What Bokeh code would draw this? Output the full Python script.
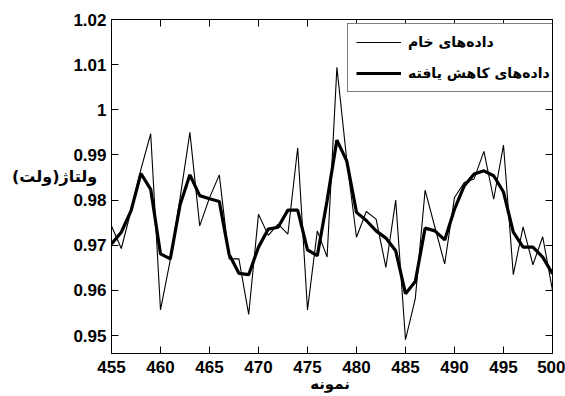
from bokeh.plotting import figure
from bokeh.models import (Range1d, FixedTicker, LinearAxis, Legend, LegendItem,
                          Label)
from bokeh.embed import file_html
from bokeh.resources import INLINE

# Sample index along the x axis
samples = list(range(455, 501))

# Raw voltage readings (V)
raw_values = [
    0.9743, 0.9693, 0.9777, 0.9868, 0.9947, 0.9557, 0.9668, 0.9805, 0.9950, 0.9743,
    0.9805, 0.9856, 0.9670, 0.9670, 0.9547, 0.9769, 0.9722, 0.9747, 0.9725, 0.9916,
    0.9557, 0.9732, 0.9674, 1.0094, 0.9890, 0.9718, 0.9775, 0.9758, 0.9651, 0.9800,
    0.9491, 0.9582, 0.9822, 0.9740, 0.9659, 0.9806, 0.9839, 0.9847, 0.9908, 0.9802,
    0.9922, 0.9635, 0.9741, 0.9657, 0.9719, 0.9600,
]

# Noise-reduced voltage (V)
reduced_values = [
    0.9703, 0.9729, 0.9777, 0.9859, 0.9824, 0.9681, 0.9670, 0.9790, 0.9856, 0.9810,
    0.9803, 0.9797, 0.9680, 0.9638, 0.9635, 0.9696, 0.9736, 0.9740, 0.9778, 0.9778,
    0.9690, 0.9677, 0.9799, 0.9933, 0.9887, 0.9773, 0.9755, 0.9732, 0.9716, 0.9688,
    0.9593, 0.9620, 0.9738, 0.9732, 0.9712, 0.9780, 0.9832, 0.9858, 0.9865, 0.9854,
    0.9818, 0.9729, 0.9696, 0.9696, 0.9674, 0.9637,
]

x_ticks = [455, 460, 465, 470, 475, 480, 485, 490, 495, 500]
y_ticks = [0.95, 0.96, 0.97, 0.98, 0.99, 1.00, 1.01, 1.02]
y_tick_labels = ["0.95", "0.96", "0.97", "0.98", "0.99", "1", "1.01", "1.02"]

series_names = ["داده‌های خام", "داده‌های کاهش یافته"]
x_title = "نمونه"
y_title = "ولتاژ(ولت)"

NUM_FONT = "'Liberation Sans', Arial, sans-serif"
FA_FONT = "'DejaVu Sans', sans-serif"

p = figure(width=565, height=396, output_backend="svg", toolbar_location=None,
           x_range=Range1d(455, 500), y_range=Range1d(0.94605, 1.02),
           min_border_left=111, min_border_right=13, min_border_top=18,
           min_border_bottom=43)
p.grid.visible = False
p.outline_line_color = "black"
p.outline_line_width = 1
p.background_fill_color = "white"
p.border_fill_color = "white"

raw_r = p.line(samples, raw_values, line_color="black", line_width=1.1)
red_r = p.line(samples, reduced_values, line_color="black", line_width=3.2)


def style_axis(ax, ticks, show_labels):
    ax.ticker = FixedTicker(ticks=ticks)
    ax.minor_tick_line_color = None
    ax.major_tick_in = 7
    ax.major_tick_out = 0
    ax.major_tick_line_color = "black"
    ax.axis_line_color = "black"
    if show_labels:
        ax.major_label_text_font = NUM_FONT
        ax.major_label_text_font_style = "bold"
        ax.major_label_text_font_size = "17px"
        ax.major_label_text_color = "black"
    else:
        # tick marks only, mirrored on the opposite side of the frame
        ax.major_label_overrides = {t: "" for t in ticks}
        ax.major_label_text_color = None
        ax.major_label_standoff = 0


xb = p.xaxis[0]
style_axis(xb, x_ticks, True)
xb.major_label_standoff = 7

yl = p.yaxis[0]
style_axis(yl, y_ticks, True)
yl.major_label_standoff = 5
yl.major_label_overrides = {t: s for t, s in zip(y_ticks, y_tick_labels)}

top_ax = LinearAxis()
style_axis(top_ax, x_ticks, False)
p.add_layout(top_ax, "above")

right_ax = LinearAxis()
style_axis(right_ax, y_ticks, False)
p.add_layout(right_ax, "right")

# Axis titles, placed in side panels so they are not clipped to the frame;
# their positions are given on the plot's own scales
p.add_layout(Label(x=449.2, y=0.9853, text=y_title,
                   text_font=FA_FONT, text_font_style="bold", text_font_size="16px",
                   text_align="center", text_baseline="middle", text_color="black"),
             "above")
p.add_layout(Label(x=477.3, y=0.9392, text=x_title,
                   text_font=FA_FONT, text_font_style="bold", text_font_size="15px",
                   text_align="center", text_baseline="middle", text_color="black"),
             "below")

legend = Legend(items=[LegendItem(label=series_names[0], renderers=[raw_r]),
                       LegendItem(label=series_names[1], renderers=[red_r])],
                location=(236, 261), orientation="vertical",
                glyph_width=45, glyph_height=20, label_height=20,
                label_standoff=7, spacing=11, padding=8, margin=0,
                label_text_font=FA_FONT, label_text_font_style="bold",
                label_text_font_size="14px", label_text_color="black",
                border_line_color="black", border_line_width=1,
                background_fill_color="white", background_fill_alpha=1)
p.add_layout(legend, "center")

open("out.html", "w").write(file_html(p, INLINE))
